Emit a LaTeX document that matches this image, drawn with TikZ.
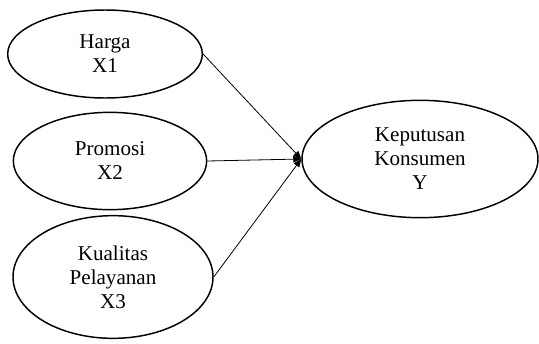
\documentclass[tikz,border=0pt]{standalone}
\usepackage{fontspec}
\setmainfont{Liberation Serif}
\usetikzlibrary{shapes.geometric,arrows.meta}

\begin{document}
\begin{tikzpicture}[x=0.75pt,y=-0.75pt,
  varnode/.style={ellipse,draw,line width=1.1pt,inner sep=0pt,align=center,
    font=\fontsize{15.8}{18}\selectfont},
  pathline/.style={line width=0.6pt,-{Triangle[length=6pt,width=5pt]}}]
\useasboundingbox (0,0) rectangle (539,343);
\node [varnode,minimum width=146pt,minimum height=66pt] (harga) at (105,54) {Harga\\X1};
\node [varnode,minimum width=145pt,minimum height=73pt] (promosi) at (110,161) {Promosi\\X2};
\node [varnode,minimum width=150pt,minimum height=92pt] (kualitas) at (113,277) {Kualitas\\Pelayanan\\X3};
\node [varnode,minimum width=177pt,minimum height=88pt] (keputusan) at (420,159) {Keputusan\\Konsumen\\Y};
  \foreach \src in {harga,promosi,kualitas}
  {  \draw [pathline] (\src.east) -- (keputusan.west);}
\end{tikzpicture}
\end{document}
